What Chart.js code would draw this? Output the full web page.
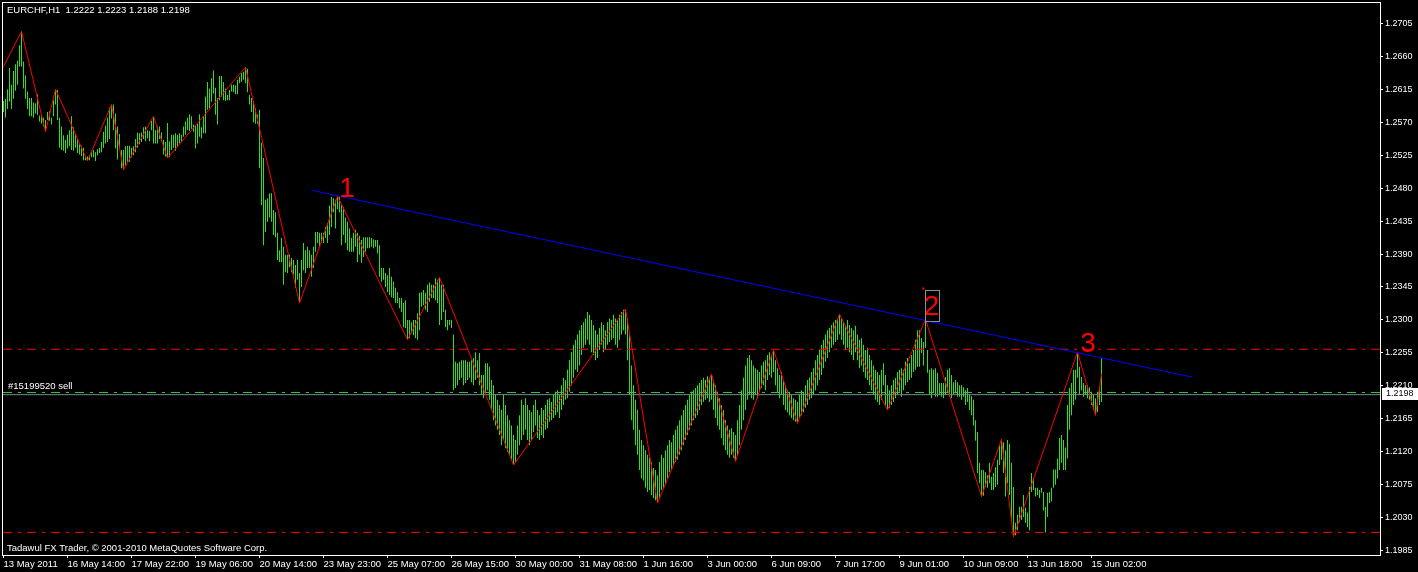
<!DOCTYPE html>
<html><head><meta charset="utf-8">
<script src="https://cdn.jsdelivr.net/npm/chart.js@4.4.1/dist/chart.umd.min.js"></script>
<style>html,body{margin:0;padding:0;background:#000;}canvas{display:block;}</style>
</head><body>
<canvas id="c" width="1418" height="572"></canvas>
<script>
const symbolTitle = "EURCHF,H1  1.2222 1.2223 1.2188 1.2198";
const footerText = "Tadawul FX Trader, \u00A9 2001-2010 MetaQuotes Software Corp.";

const xTickIndex = [0,32,64,96,128,160,192,224,256,288,320,352,384,416,448,480,512,544];
const xTickLabels = ["13 May 2011","16 May 14:00","17 May 22:00","19 May 06:00","20 May 14:00","23 May 23:00","25 May 07:00","26 May 15:00","30 May 00:00","31 May 08:00","1 Jun 16:00","3 Jun 00:00","6 Jun 09:00","7 Jun 17:00","9 Jun 01:00","10 Jun 09:00","13 Jun 18:00","15 Jun 02:00"];
const yTickValues = [1.1985,1.2030,1.2075,1.2120,1.2165,1.2210,1.2255,1.2300,1.2345,1.2390,1.2435,1.2480,1.2525,1.2570,1.2615,1.2660,1.2705];

const barHigh = [
1.2599,1.2602,1.2615,1.2644,1.2621,1.2640,1.2649,1.2654,1.2675,1.2694,
1.2653,1.2634,1.2612,1.2603,1.2603,1.2597,1.2596,1.2608,1.2579,1.2578,
1.2576,1.2573,1.2584,1.2585,1.2576,1.2600,1.2615,1.2614,1.2576,1.2564,
1.2552,1.2546,1.2553,1.2559,1.2578,1.2563,1.2554,1.2546,1.2540,1.2538,
1.2535,1.2524,1.2523,1.2525,1.2531,1.2532,1.2529,1.2533,1.2535,1.2543,
1.2557,1.2565,1.2576,1.2590,1.2594,1.2594,1.2582,1.2564,1.2554,1.2532,
1.2532,1.2537,1.2538,1.2538,1.2535,1.2537,1.2547,1.2556,1.2555,1.2556,
1.2563,1.2564,1.2559,1.2558,1.2572,1.2578,1.2559,1.2564,1.2564,1.2556,
1.2546,1.2543,1.2569,1.2544,1.2553,1.2553,1.2555,1.2553,1.2555,1.2553,
1.2564,1.2571,1.2576,1.2581,1.2578,1.2567,1.2566,1.2568,1.2581,1.2563,
1.2578,1.2605,1.2625,1.2616,1.2630,1.2641,1.2617,1.2603,1.2633,1.2633,
1.2625,1.2616,1.2607,1.2614,1.2621,1.2621,1.2620,1.2628,1.2632,1.2637,
1.2639,1.2645,1.2643,1.2607,1.2603,1.2599,1.2589,1.2580,1.2587,1.2542,
1.2521,1.2464,1.2466,1.2473,1.2473,1.2450,1.2447,1.2419,1.2395,1.2412,
1.2400,1.2389,1.2389,1.2389,1.2385,1.2382,1.2375,1.2382,1.2364,1.2382,
1.2405,1.2395,1.2400,1.2395,1.2389,1.2400,1.2420,1.2420,1.2419,1.2419,
1.2419,1.2427,1.2432,1.2456,1.2468,1.2466,1.2464,1.2469,1.2469,1.2457,
1.2454,1.2440,1.2434,1.2425,1.2412,1.2419,1.2423,1.2419,1.2415,1.2409,
1.2413,1.2413,1.2413,1.2413,1.2412,1.2410,1.2409,1.2409,1.2402,1.2371,
1.2371,1.2364,1.2361,1.2371,1.2359,1.2352,1.2344,1.2338,1.2330,1.2330,
1.2323,1.2327,1.2300,1.2300,1.2297,1.2300,1.2300,1.2309,1.2337,1.2338,
1.2341,1.2337,1.2348,1.2351,1.2348,1.2348,1.2357,1.2355,1.2358,1.2348,
1.2348,1.2314,1.2300,1.2300,1.2300,
1.2280,1.2243,1.2241,1.2243,1.2245,1.2245,1.2245,1.2243,1.2243,1.2245,
1.2248,1.2256,1.2245,1.2255,1.2225,1.2225,1.2241,1.2241,1.2236,1.2218,
1.2211,1.2198,1.2191,1.2184,1.2177,1.2198,1.2184,1.2170,1.2163,1.2156,
1.2143,1.2136,1.2156,1.2170,1.2191,1.2184,1.2193,1.2184,1.2177,1.2174,
1.2184,1.2191,1.2177,1.2170,1.2180,1.2177,1.2184,1.2191,1.2193,1.2188,
1.2198,1.2202,1.2204,1.2198,1.2211,1.2221,1.2218,1.2232,1.2245,1.2256,
1.2266,1.2273,1.2280,1.2286,1.2293,1.2297,1.2302,1.2311,1.2307,1.2300,
1.2293,1.2286,1.2280,1.2289,1.2297,1.2293,1.2286,1.2297,1.2302,1.2300,
1.2307,1.2302,1.2300,1.2307,1.2311,1.2314,1.2315,1.2302,1.2280,1.2238,
1.2211,1.2191,1.2177,1.2150,1.2136,1.2129,1.2122,1.2116,1.2112,1.2106,
1.2098,1.2095,1.2088,1.2106,1.2116,1.2112,1.2122,1.2129,1.2136,1.2133,
1.2143,1.2150,1.2156,1.2163,1.2170,1.2177,1.2184,1.2191,1.2198,1.2202,
1.2204,1.2207,1.2211,1.2214,1.2218,1.2221,1.2218,1.2223,1.2221,1.2226,
1.2218,1.2211,1.2202,1.2193,1.2184,1.2177,1.2163,1.2156,1.2150,1.2152,
1.2147,1.2143,1.2163,1.2184,1.2204,1.2221,1.2238,1.2248,1.2252,1.2245,
1.2238,1.2234,1.2232,1.2229,1.2238,1.2243,1.2245,1.2252,1.2256,1.2252,
1.2259,1.2245,1.2234,1.2225,1.2229,1.2218,1.2211,1.2204,1.2202,1.2198,
1.2193,1.2191,1.2188,1.2198,1.2204,1.2202,1.2211,1.2218,1.2221,1.2229,
1.2234,1.2245,1.2252,1.2259,1.2266,1.2273,1.2280,1.2286,1.2289,1.2293,
1.2297,1.2300,1.2302,1.2308,1.2302,1.2297,1.2293,1.2300,1.2293,1.2289,
1.2286,1.2292,1.2280,1.2273,1.2275,1.2266,1.2259,1.2262,1.2252,1.2245,
1.2238,1.2232,1.2229,1.2225,1.2232,1.2241,1.2225,1.2211,1.2204,1.2211,
1.2218,1.2221,1.2229,1.2232,1.2234,1.2232,1.2243,1.2248,1.2241,1.2252,
1.2259,1.2273,1.2286,1.2286,1.2275,1.2270,1.2301,1.2259,1.2232,1.2234,
1.2232,1.2234,1.2228,1.2214,1.2214,1.2214,1.2222,1.2232,1.2234,1.2225,
1.2215,1.2218,1.2215,1.2211,1.2211,1.2208,1.2204,1.2207,1.2198,1.2196,
1.2191,1.2163,1.2147,1.2105,1.2095,1.2095,1.2092,1.2088,1.2105,1.2086,
1.2091,1.2099,1.2109,1.2129,1.2137,1.2133,1.2122,1.2136,1.2131,1.2105,
1.2072,1.2023,1.2034,1.2045,1.2045,1.2061,1.2044,1.2037,1.2072,1.2091,
1.2084,1.2071,1.2071,1.2068,1.2071,1.2065,1.2045,1.2064,1.2065,1.2071,
1.2096,1.2096,1.2111,1.2139,1.2143,1.2136,1.2126,1.2184,1.2207,1.2214,
1.2232,1.2232,1.2256,1.2236,1.2222,1.2214,1.2211,1.2211,1.2208,1.2202,
1.2198,1.2193,1.2202,1.2209,1.2248
];
const barLow = [
1.2584,1.2576,1.2588,1.2598,1.2588,1.2602,1.2613,1.2621,1.2646,1.2646,
1.2616,1.2602,1.2588,1.2578,1.2578,1.2576,1.2582,1.2580,1.2571,1.2568,
1.2564,1.2557,1.2573,1.2572,1.2567,1.2578,1.2594,1.2573,1.2535,1.2532,
1.2531,1.2528,1.2534,1.2537,1.2532,1.2531,1.2535,1.2528,1.2526,1.2524,
1.2518,1.2518,1.2517,1.2518,1.2522,1.2522,1.2517,1.2525,1.2528,1.2529,
1.2535,1.2541,1.2543,1.2547,1.2575,1.2559,1.2534,1.2519,1.2535,1.2507,
1.2505,1.2511,1.2516,1.2516,1.2522,1.2525,1.2529,1.2535,1.2540,1.2543,
1.2547,1.2544,1.2548,1.2544,1.2559,1.2541,1.2541,1.2541,1.2547,1.2544,
1.2526,1.2523,1.2521,1.2522,1.2532,1.2535,1.2531,1.2537,1.2541,1.2544,
1.2550,1.2553,1.2559,1.2558,1.2561,1.2557,1.2534,1.2541,1.2550,1.2548,
1.2555,1.2555,1.2587,1.2589,1.2598,1.2609,1.2580,1.2567,1.2600,1.2605,
1.2600,1.2599,1.2600,1.2600,1.2612,1.2611,1.2608,1.2608,1.2623,1.2625,
1.2628,1.2623,1.2611,1.2594,1.2584,1.2570,1.2568,1.2568,1.2507,1.2457,
1.2402,1.2420,1.2434,1.2440,1.2434,1.2416,1.2413,1.2382,1.2379,1.2379,
1.2348,1.2365,1.2364,1.2372,1.2365,1.2362,1.2344,1.2355,1.2323,1.2345,
1.2368,1.2364,1.2371,1.2371,1.2359,1.2371,1.2393,1.2405,1.2400,1.2405,
1.2405,1.2412,1.2405,1.2416,1.2427,1.2447,1.2425,1.2451,1.2447,1.2402,
1.2416,1.2405,1.2395,1.2393,1.2393,1.2393,1.2400,1.2379,1.2389,1.2378,
1.2386,1.2393,1.2398,1.2398,1.2400,1.2398,1.2400,1.2391,1.2359,1.2352,
1.2355,1.2345,1.2338,1.2334,1.2331,1.2330,1.2323,1.2323,1.2316,1.2311,
1.2290,1.2289,1.2273,1.2275,1.2282,1.2279,1.2275,1.2273,1.2286,1.2318,
1.2320,1.2314,1.2311,1.2325,1.2330,1.2330,1.2327,1.2323,1.2293,1.2300,
1.2311,1.2290,1.2286,1.2293,1.2289,
1.2204,1.2207,1.2211,1.2218,1.2221,1.2211,1.2214,1.2218,1.2221,1.2215,
1.2211,1.2218,1.2221,1.2211,1.2198,1.2193,1.2202,1.2204,1.2191,1.2177,
1.2163,1.2156,1.2150,1.2143,1.2129,1.2136,1.2125,1.2120,1.2116,1.2109,
1.2102,1.2106,1.2116,1.2129,1.2136,1.2143,1.2150,1.2136,1.2129,1.2136,
1.2147,1.2156,1.2139,1.2136,1.2143,1.2139,1.2150,1.2152,1.2161,1.2163,
1.2166,1.2170,1.2174,1.2166,1.2177,1.2184,1.2191,1.2193,1.2202,1.2211,
1.2221,1.2232,1.2229,1.2238,1.2252,1.2262,1.2266,1.2273,1.2266,1.2256,
1.2252,1.2245,1.2248,1.2259,1.2266,1.2256,1.2259,1.2266,1.2270,1.2273,
1.2275,1.2266,1.2262,1.2273,1.2280,1.2286,1.2280,1.2245,1.2198,1.2163,
1.2150,1.2129,1.2116,1.2095,1.2084,1.2081,1.2071,1.2065,1.2068,1.2061,
1.2057,1.2054,1.2050,1.2057,1.2068,1.2071,1.2075,1.2084,1.2092,1.2095,
1.2102,1.2106,1.2109,1.2116,1.2122,1.2129,1.2136,1.2143,1.2150,1.2156,
1.2163,1.2166,1.2170,1.2177,1.2184,1.2188,1.2191,1.2193,1.2188,1.2191,
1.2177,1.2166,1.2156,1.2150,1.2139,1.2129,1.2122,1.2116,1.2112,1.2116,
1.2112,1.2107,1.2116,1.2129,1.2150,1.2163,1.2177,1.2191,1.2198,1.2193,
1.2191,1.2198,1.2193,1.2202,1.2207,1.2211,1.2204,1.2218,1.2225,1.2221,
1.2229,1.2211,1.2202,1.2193,1.2198,1.2184,1.2177,1.2174,1.2170,1.2166,
1.2163,1.2161,1.2159,1.2166,1.2170,1.2174,1.2180,1.2184,1.2191,1.2193,
1.2198,1.2204,1.2211,1.2218,1.2225,1.2234,1.2243,1.2248,1.2256,1.2262,
1.2266,1.2270,1.2273,1.2280,1.2273,1.2266,1.2259,1.2262,1.2256,1.2252,
1.2245,1.2256,1.2245,1.2234,1.2238,1.2229,1.2221,1.2218,1.2211,1.2204,
1.2198,1.2191,1.2188,1.2184,1.2191,1.2211,1.2184,1.2177,1.2180,1.2184,
1.2188,1.2193,1.2198,1.2202,1.2195,1.2204,1.2211,1.2215,1.2218,1.2221,
1.2229,1.2232,1.2236,1.2236,1.2255,1.2238,1.2262,1.2228,1.2198,1.2193,
1.2200,1.2195,1.2195,1.2198,1.2195,1.2193,1.2198,1.2200,1.2195,1.2193,
1.2198,1.2200,1.2195,1.2195,1.2191,1.2195,1.2184,1.2188,1.2177,1.2170,
1.2156,1.2135,1.2091,1.2077,1.2059,1.2060,1.2072,1.2071,1.2077,1.2068,
1.2068,1.2072,1.2075,1.2102,1.2109,1.2091,1.2059,1.2077,1.2061,1.2027,
1.2004,1.2006,1.2013,1.2024,1.2027,1.2031,1.2023,1.2017,1.2013,1.2065,
1.2068,1.2059,1.2061,1.2057,1.2064,1.2040,1.2010,1.2031,1.2050,1.2052,
1.2071,1.2075,1.2084,1.2095,1.2105,1.2095,1.2095,1.2111,1.2150,1.2170,
1.2184,1.2191,1.2221,1.2198,1.2204,1.2195,1.2198,1.2193,1.2191,1.2184,
1.2177,1.2170,1.2174,1.2184,1.2188
];

const zigzagIndex = [0,9,21,26,42,54,60,75,82,121,148,167,202,218,255,311,327,354,366,385,397,418,442,461,489,499,505,537,546,549];
const zigzagPrice = [1.2646,1.2694,1.2557,1.2615,1.2517,1.2594,1.2505,1.2578,1.2521,1.2645,1.2323,1.2469,1.2273,1.2358,1.2102,1.2315,1.2050,1.2226,1.2107,1.2259,1.2159,1.2308,1.2177,1.2301,1.2059,1.2137,1.2004,1.2256,1.2170,1.2226];

const trendIndex = [154.1, 594.25];
const trendPrice = [1.2477, 1.2222];

const levelPrices = [1.2260, 1.2010];
const orderPrice = 1.2201;
const orderLabel = "#15199520 sell";
const bidPrice = 1.2198;

const waveLabels = ["1","2","3"];
const waveIndex = [171.75, 464, 542.25];
const wavePrice = [1.2468, 1.2307, 1.2256];
const markerIndex = [459.9];
const markerPrice = [1.2343];

const X_MIN = -0.25, X_MAX = 688.25;
const Y_MIN = 1.197913, Y_MAX = 1.273271;
const FONT = '"Liberation Sans", Arial, sans-serif';

const lineDs = (data, color, dash, order, label) => ({
  type: 'line', label, data, borderColor: color, borderWidth: 1, borderDash: dash,
  pointRadius: 0, tension: 0, fill: false, order
});

const datasets = [
  { type: 'bar', label: 'bars',
    data: barLow.map((lo, i) => ({ x: i, y: [lo, barHigh[i]] })),
    backgroundColor: '#33DD22', borderWidth: 0, barThickness: 1, inflateAmount: 0, order: 6 },
  lineDs([{x: X_MIN, y: levelPrices[0]}, {x: X_MAX, y: levelPrices[0]}], '#FF0000', [9,6,3,6], 5, 'lvl1'),
  lineDs([{x: X_MIN, y: levelPrices[1]}, {x: X_MAX, y: levelPrices[1]}], '#FF0000', [9,6,3,6], 5, 'lvl2'),
  lineDs([{x: X_MIN, y: bidPrice}, {x: X_MAX, y: bidPrice}], '#778899', [], 4, 'bid'),
  lineDs([{x: X_MIN, y: orderPrice}, {x: X_MAX, y: orderPrice}], '#32CD32', [9,6,3,6], 3, 'order'),
  lineDs(zigzagIndex.map((v, k) => ({x: v, y: zigzagPrice[k]})), '#FF0000', [], 2, 'zigzag'),
  lineDs(trendIndex.map((v, k) => ({x: v, y: trendPrice[k]})), '#0000FF', [], 1, 'trend'),
  { type: 'scatter', label: 'marker', data: markerIndex.map((v, k) => ({x: v, y: markerPrice[k]})),
    pointStyle: 'rect', pointRadius: 1.5, backgroundColor: '#FF0000', borderColor: '#FF0000', borderWidth: 0, order: 0 }
];

const decor = {
  id: 'decor',
  beforeDraw(chart) {
    const ctx = chart.ctx;
    ctx.save(); ctx.fillStyle = '#000'; ctx.fillRect(0, 0, chart.width, chart.height); ctx.restore();
  },
  afterDraw(chart) {
    const ctx = chart.ctx, a = chart.chartArea, xs = chart.scales.x, ys = chart.scales.y;
    ctx.save();
    ctx.strokeStyle = '#fff'; ctx.lineWidth = 1;
    ctx.strokeRect(a.left - 0.5, a.top - 0.5, a.right - a.left + 1, a.bottom - a.top + 1);
    ctx.fillStyle = '#fff';
    ctx.font = '9.5px ' + FONT;
    ctx.textBaseline = 'middle'; ctx.textAlign = 'left';
    ctx.fillText(symbolTitle, 7, 10.5);
    ctx.fillText(footerText, 7, 548);
    ctx.fillText(orderLabel, 8, ys.getPixelForValue(orderPrice) - 6);
    ctx.font = '28px ' + FONT;
    ctx.fillStyle = '#FF0000';
    ctx.textAlign = 'center'; ctx.textBaseline = 'alphabetic';
    waveLabels.forEach((t, k) => {
      const px = xs.getPixelForValue(waveIndex[k]), py = ys.getPixelForValue(wavePrice[k]);
      ctx.fillText(t, px, py);
      if (t === '2') {
        ctx.strokeStyle = '#8A8F98';
        ctx.strokeRect(Math.round(px - 7) + 0.5, Math.round(py - 25) + 0.5, 14, 31);
      }
    });
    const by = ys.getPixelForValue(bidPrice);
    ctx.fillStyle = '#fff';
    ctx.fillRect(a.right + 2, Math.round(by) - 7, chart.width - a.right - 2, 12);
    ctx.fillStyle = '#000';
    ctx.font = '9px ' + FONT;
    ctx.textAlign = 'left'; ctx.textBaseline = 'middle';
    ctx.fillText(bidPrice.toFixed(4), a.right + 6, Math.round(by) - 1);
    ctx.restore();
  }
};

new Chart(document.getElementById('c'), {
  type: 'bar',
  data: { datasets },
  options: {
    responsive: false, animation: false, devicePixelRatio: 1,
    events: [],
    layout: { padding: { left: 3, top: 3, right: 0, bottom: 0 }, autoPadding: false },
    plugins: { legend: { display: false }, tooltip: { enabled: false }, title: { display: false } },
    scales: {
      x: {
        type: 'linear', position: 'bottom', min: X_MIN, max: X_MAX, offset: false,
        grid: { display: true, offset: false, drawOnChartArea: false, drawTicks: true, tickLength: 3, color: '#fff', lineWidth: 1 },
        border: { display: false },
        ticks: {
          autoSkip: false, maxRotation: 0, minRotation: 0, align: 'start', color: '#fff', padding: 1,
          font: { family: FONT, size: 9.5 },
          callback: (v, i) => xTickLabels[i]
        },
        afterBuildTicks: s => { s.ticks = xTickIndex.map(v => ({ value: v })); },
        afterFit: s => { s.height = 17; s.paddingLeft = 0; s.paddingRight = 0; }
      },
      y: {
        type: 'linear', position: 'right', min: Y_MIN, max: Y_MAX,
        grid: { display: true, drawOnChartArea: false, drawTicks: true, tickLength: 3, color: '#fff', lineWidth: 1 },
        border: { display: false },
        ticks: {
          autoSkip: false, color: '#fff', padding: 2,
          font: { family: FONT, size: 9 },
          callback: v => Number(v).toFixed(4)
        },
        afterBuildTicks: s => { s.ticks = yTickValues.map(v => ({ value: v })); },
        afterFit: s => { s.width = 38; s.paddingTop = 0; s.paddingBottom = 0; }
      }
    }
  },
  plugins: [decor]
});
</script>
</body></html>
